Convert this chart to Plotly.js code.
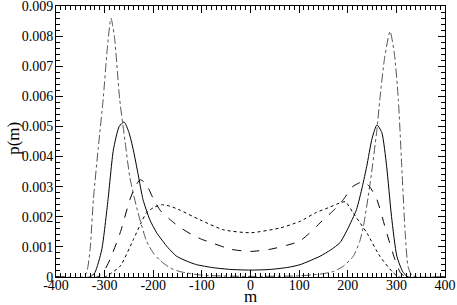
<!DOCTYPE html>
<html>
<head>
<meta charset="utf-8">
<script src="https://cdn.plot.ly/plotly-3.0.1.min.js"></script>
<style>
  html, body { margin: 0; padding: 0; background: #fff; }
  #chart { width: 457px; height: 305px; }
</style>
</head>
<body>
<div id="chart"></div>
<script>
// p(m) curves, one pair of arrays per curve

// dash-dot (sharpest peaks)
const mA = [-400, -345, -337, -330, -323, -313, -303, -295, -287, -280, -269, -258, -248, -234, -214, -200, -186, -165, -145, -100, 0,
  100, 145, 170, 190, 211, 225, 232, 246, 260, 266, 276, 287, 296, 304, 311, 318, 324, 332, 345, 400];
const pA = [0, 0, 0.00015, 0.0009, 0.0026, 0.0043, 0.0059, 0.0075, 0.0086, 0.0080, 0.0059, 0.0045, 0.0033, 0.0023, 0.0012, 0.0008, 0.00055, 0.0003, 0.00018, 0.00006, 0.00002,
  0.00004, 0.0001, 0.00018, 0.00035, 0.00068, 0.0012, 0.00167, 0.0031, 0.0049, 0.0059, 0.0073, 0.00816, 0.0074, 0.0059, 0.0037, 0.0015, 0.00035, 0.00005, 0, 0];

// solid
const mB = [-400, -330, -320, -306, -293, -282, -270, -260, -250, -241, -231, -221, -207, -193, -170, -152, -130, -111, -77, -40, 0,
  40, 77, 102, 143, 165, 184, 200, 218, 230, 239, 250, 260, 270, 280, 290, 301, 314, 325, 400];
const pB = [0, 0, 0.00015, 0.0009, 0.00257, 0.00422, 0.0050, 0.00515, 0.0048, 0.00422, 0.0034, 0.00257, 0.0019, 0.00147, 0.00098, 0.00069, 0.00052, 0.00041, 0.00031, 0.00025, 0.00023,
  0.00025, 0.00032, 0.00041, 0.00069, 0.0009, 0.00114, 0.0016, 0.00224, 0.0030, 0.00367, 0.0046, 0.00505, 0.0048, 0.00367, 0.00201, 0.00069, 0.00015, 0, 0];

// dashed
const mC = [-400, -315, -303, -289, -268, -248, -237, -227, -215, -200, -185, -165, -145, -120, -100, -77, -40, 0,
  40, 74, 102, 136, 143, 170, 191, 210, 232, 245, 260, 280, 297, 308, 320, 400];
const pC = [0, 0, 0.00015, 0.00058, 0.00147, 0.00257, 0.0030, 0.00323, 0.0031, 0.0026, 0.0022, 0.0019, 0.00165, 0.0014, 0.00125, 0.00112, 0.00092, 0.00085,
  0.00092, 0.00105, 0.0012, 0.00168, 0.0018, 0.0022, 0.00257, 0.0030, 0.00317, 0.0030, 0.00257, 0.00147, 0.00058, 0.00015, 0, 0];

// dotted (broadest)
const mD = [-400, -300, -289, -268, -241, -225, -214, -200, -183, -165, -145, -104, -56, 0,
  61, 102, 136, 160, 184, 195, 211, 239, 266, 293, 305, 400];
const pD = [0, 0, 0.0001, 0.00036, 0.00124, 0.0018, 0.00213, 0.0023, 0.0024, 0.00235, 0.00222, 0.0019, 0.00157, 0.00147,
  0.00163, 0.00185, 0.00215, 0.0023, 0.00246, 0.0025, 0.00213, 0.00147, 0.00069, 0.00015, 0, 0];

const xTicks = [-400, -300, -200, -100, 0, 100, 200, 300, 400];
const xTickText = ['-400', '-300', '-200', '-100', '0', '100', '200', '300', '400'];
const yTicks = [0, 0.001, 0.002, 0.003, 0.004, 0.005, 0.006, 0.007, 0.008, 0.009];
const yTickText = ['0', '0.001', '0.002', '0.003', '0.004', '0.005', '0.006', '0.007', '0.008', '0.009'];

const font = { family: 'Liberation Serif, Times New Roman, serif', color: '#000', size: 14 };

const traces = [
  { x: mA, y: pA, mode: 'lines', line: { color: '#555', width: 1, dash: 'dashdot', shape: 'spline', smoothing: 0.6 } },
  { x: mB, y: pB, mode: 'lines', line: { color: '#000', width: 1, shape: 'spline', smoothing: 0.6 } },
  { x: mC, y: pC, mode: 'lines', line: { color: '#000', width: 1, dash: 'dash', shape: 'spline', smoothing: 0.6 } },
  { x: mD, y: pD, mode: 'lines', line: { color: '#000', width: 1, dash: 'dot', shape: 'spline', smoothing: 0.6 } }
];

const axisCommon = {
  showgrid: false, zeroline: false,
  showline: true, linecolor: '#000', linewidth: 1, mirror: 'allticks',
  ticks: 'inside', ticklen: 7, tickcolor: '#000', tickwidth: 1,
  tickfont: font, ticklabeloverflow: 'allow'
};

Plotly.newPlot('chart', traces, {
  width: 457, height: 305,
  margin: { l: 56, r: 12, t: 6, b: 28 },
  paper_bgcolor: '#fff', plot_bgcolor: '#fff',
  showlegend: false,
  font: font,
  xaxis: Object.assign({}, axisCommon, {
    range: [-400, 400], tickvals: xTicks, ticktext: xTickText, ticklabelstandoff: -5,
    minor: { dtick: 10, ticks: 'inside', ticklen: 4, tickcolor: '#000', tickwidth: 1 }
  }),
  yaxis: Object.assign({}, axisCommon, {
    range: [0, 0.009], tickvals: yTicks, ticktext: yTickText, ticklabelstandoff: -1,
    minor: { tickvals: Array.from({ length: 46 }, (_, i) => i * 0.0002), ticks: 'inside', ticklen: 4, tickcolor: '#000', tickwidth: 1 }
  }),
  annotations: [
    { text: 'm', xref: 'paper', yref: 'paper', x: 0.5, y: 0, xanchor: 'center', yanchor: 'top',
      yshift: -8, showarrow: false, font: Object.assign({}, font, { size: 17 }) },
    { text: 'p(m)', xref: 'paper', yref: 'paper', x: 0, y: 0.51, xanchor: 'center', yanchor: 'middle',
      xshift: -42, textangle: -90, showarrow: false, font: Object.assign({}, font, { size: 17 }) }
  ]
}, { displayModeBar: false, staticPlot: true });
</script>
</body>
</html>
